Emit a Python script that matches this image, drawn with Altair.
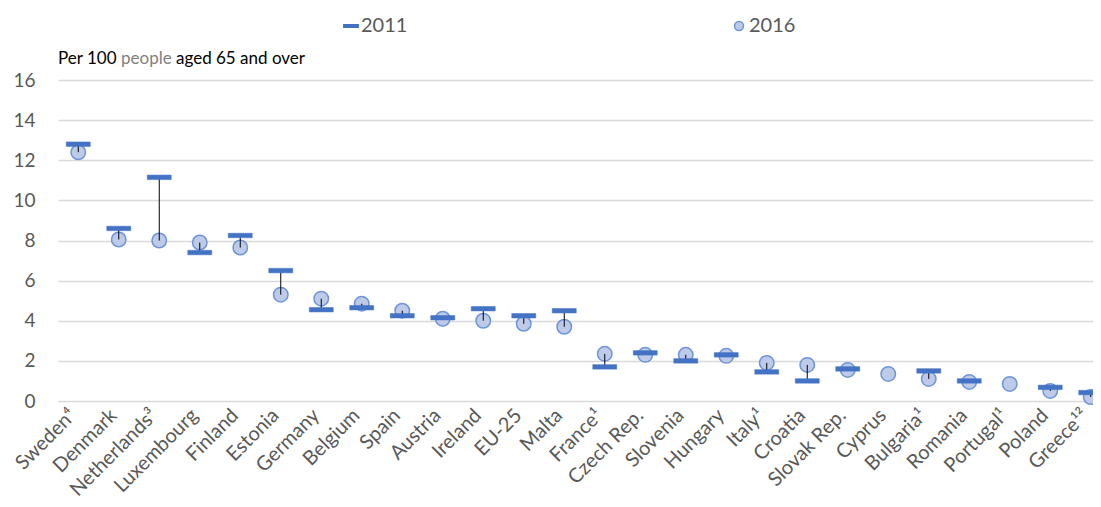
import altair as alt
import pandas as pd

countries = ["Sweden⁴", "Denmark", "Netherlands³", "Luxembourg", "Finland", "Estonia",
             "Germany", "Belgium", "Spain", "Austria", "Ireland", "EU-25", "Malta",
             "France¹", "Czech Rep.", "Slovenia", "Hungary", "Italy¹", "Croatia",
             "Slovak Rep.", "Cyprus", "Bulgaria¹", "Romania", "Portugal¹", "Poland", "Greece¹²"]
v2011 = [12.8, 8.6, 11.15, 7.4, 8.25, 6.5, 4.55, 4.65, 4.25, 4.15, 4.6, 4.25, 4.5,
         1.7, 2.4, 2.0, 2.3, 1.45, 1.0, 1.6, None, 1.5, 1.0, None, 0.68, 0.42]
v2016 = [12.4, 8.05, 8.0, 7.9, 7.65, 5.3, 5.1, 4.85, 4.5, 4.1, 4.0, 3.85, 3.7,
         2.35, 2.3, 2.3, 2.25, 1.9, 1.8, 1.55, 1.35, 1.1, 0.95, 0.85, 0.5, 0.2]
years = ["2011", "2016"]
note_parts = ["Per 100", "people", "aged 65 and over"]
note_colors = ["#000000", "#7f7f7f", "#000000"]

wide = pd.DataFrame({"country": countries, "v2011": v2011, "v2016": v2016})
long = wide.melt(id_vars="country", value_vars=["v2011", "v2016"], var_name="year", value_name="value")
long["year"] = long["year"].str.replace("v", "")
long = long.dropna()

FONT = "Lato"
GREY = "#595959"
BAR_PATH = "M-1.6,-0.3H1.6V0.3H-1.6Z"

legend = alt.Legend(title=None, orient="none", direction="horizontal", legendX=283, legendY=-64,
                    columnPadding=321, labelFont=FONT, labelFontSize=20, labelColor=GREY,
                    symbolSize=80, symbolStrokeWidth=1.5, labelOffset=0)

x_enc = alt.X("country:N", sort=countries,
              scale=alt.Scale(type="band", domain=countries, range=[0, 1053],
                              paddingInner=0, paddingOuter=0),
              axis=alt.Axis(title=None, labelAngle=-45, labelAlign="right", labelBaseline="middle",
                            ticks=False, domain=False, grid=False, labelPadding=11, labelOffset=-5,
                            labelFont=FONT, labelFontSize=20, labelColor=GREY, labelLimit=300))
y_scale = alt.Scale(domain=[0, 16], nice=False)
y_axis = alt.Axis(title=None, values=list(range(0, 17, 2)), ticks=False, domain=False,
                  gridColor="#d9d9d9", gridWidth=1.5, labelPadding=23,
                  labelFont=FONT, labelFontSize=19, labelColor=GREY)

shape_enc = alt.Shape("year:N", scale=alt.Scale(domain=years, range=[BAR_PATH, "circle"]), legend=legend)
fill_enc = alt.Fill("year:N", scale=alt.Scale(domain=years, range=["#4472c4", "#bdcbe9"]), legend=legend)
stroke_enc = alt.Stroke("year:N", scale=alt.Scale(domain=years, range=["#4472c4", "#6f95d8"]), legend=legend)

base = alt.Chart(long)

circles = base.transform_filter(alt.datum.year == "2016").mark_point(
    filled=True, size=210, strokeWidth=1.5, opacity=1
).encode(x=x_enc, y=alt.Y("value:Q", scale=y_scale, axis=y_axis),
         shape=shape_enc, fill=fill_enc, stroke=stroke_enc)

rules = alt.Chart(wide.dropna()).mark_rule(color="black", strokeWidth=1).encode(
    x=x_enc, y=alt.Y("v2011:Q", scale=y_scale, axis=y_axis), y2="v2016:Q")

bars = base.transform_filter(alt.datum.year == "2011").mark_point(
    filled=True, size=225, strokeWidth=0.5, opacity=1
).encode(x=x_enc, y=alt.Y("value:Q", scale=y_scale, axis=y_axis),
         shape=shape_enc, fill=fill_enc, stroke=stroke_enc)

note_x = [0, 63, 118]
notes = [
    alt.Chart(pd.DataFrame({"t": [txt]})).mark_text(
        align="left", baseline="alphabetic", font=FONT, fontSize=17, color=col
    ).encode(text="t:N", x=alt.value(nx), y=alt.value(-16))
    for txt, col, nx in zip(note_parts, note_colors, note_x)
]

chart = alt.layer(circles, rules, bars, *notes).properties(
    width=1035, height=321,
    padding={"left": 50, "top": 72, "right": 0, "bottom": 98},
    autosize=alt.AutoSizeParams(type="none"),
).configure_view(strokeWidth=0)

chart.save("out.html", embed_options={"renderer": "svg", "actions": False})
